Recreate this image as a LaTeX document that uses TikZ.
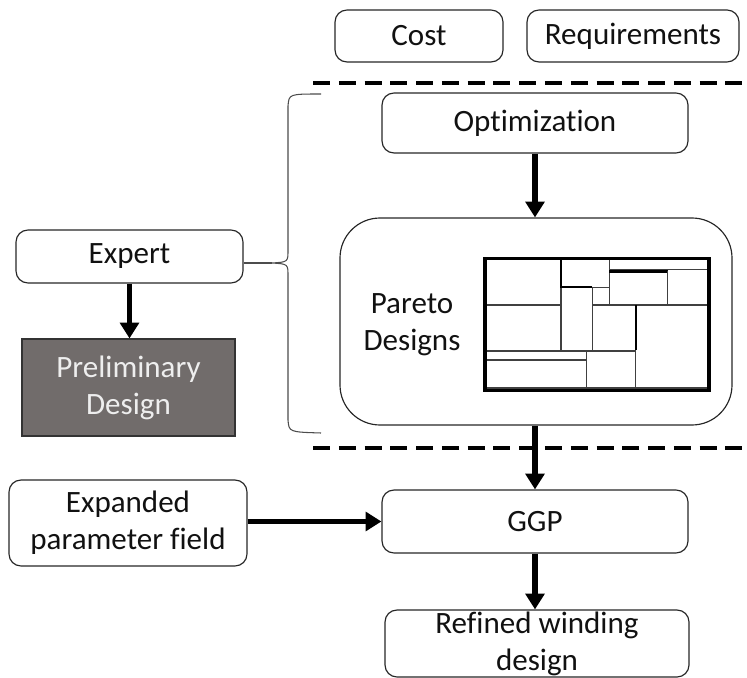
\documentclass[tikz,border=0pt]{standalone}
\usepackage{fontspec}
\setmainfont{Carlito}[Ligatures=NoCommon]
\usetikzlibrary{arrows.meta}
\definecolor{prelimfill}{HTML}{716C6B}
\definecolor{prelimtxt}{HTML}{EEEEEE}
\definecolor{txt}{HTML}{111111}
\begin{document}
\begin{tikzpicture}[x=0.03cm,y=-0.03cm,
  font=\fontsize{26.5}{31.6}\selectfont,
  sz/.style 2 args={minimum width=#1*0.03cm, minimum height=#2*0.03cm},
  box/.style={draw=black!85, line width=1pt, rounded corners=0.36cm, align=center, text=txt, inner sep=0pt},
  arr/.style={line width=4.4pt, -{Triangle[width=16pt,length=13.5pt]}},
  sepline/.style={line width=2.6pt, dash pattern=on 14.5pt off 7.5pt},
  thinl/.style={line width=0.9pt, draw=black!75},
  thickl/.style={line width=1.8pt, draw=black},
  bracel/.style={line width=0.9pt, draw=black!70}]
\useasboundingbox (0,0) rectangle (747,678);

% top boxes
\node[box, sz={168}{52}] (cost) at (419,36) {Cost};
\node[box, sz={212}{52}] (req) at (633,36) {Requirements};

% dashed separators
\coordinate (d1a) at (313,83); \coordinate (d1b) at (747,83);
\coordinate (d2a) at (313,448); \coordinate (d2b) at (747,448);
\draw[sepline] (d1a) -- (d1b);
\draw[sepline] (d2a) -- (d2b);

% optimization and pareto
\node[box, sz={306}{60}] (opt) at (535,123) {Optimization};
\node[box, sz={392}{207}, rounded corners=1.2cm] (pareto) at (536,321.5) {};
\node[align=center, text=txt, inner sep=0pt] (paretotxt) at (412,325) {Pareto\\Designs};

% pareto grid
\draw[thinl] (561,258) -- (561,350);
\draw[thickl] (561,258) -- (561,286.7) -- (592.3,286.7);
\draw[thinl] (485,305) -- (561,305);
\draw[thinl] (592.3,286.7) -- (592.3,350);
\draw[thinl] (592.3,287.7) -- (609.3,287.7);
\draw[thinl] (609.3,258) -- (609.3,305);
\draw[thinl] (609.3,269.3) -- (709,269.3);
\draw[thickl] (609.3,271.5) -- (667.7,271.5);
\draw[thinl] (667.7,271) -- (667.7,305);
\draw[thinl] (592.3,305) -- (709,305);
\draw[thinl] (635.7,350) -- (635.7,389);
\draw[thickl] (635.7,305) -- (635.7,350);
\draw[thinl] (485,351) -- (635.7,351);
\draw[thinl] (485,360) -- (586.3,360);
\draw[thinl] (586.3,351) -- (586.3,390);
\draw[thinl] (485,388) -- (709,388);
\draw[line width=2.6pt] (485,258.3) rectangle (709,390.7);

% left side
\node[box, sz={227}{53}] (expert) at (129.5,256.5) {Expert};
\node[draw=black!80, line width=1pt, fill=prelimfill, text=prelimtxt, align=center, inner sep=0pt, sz={213}{97}] (prelim) at (128.5,387.5) {Preliminary\\Design};

% brace
\coordinate (tip) at (272,263);
\draw[bracel] (321,94) .. controls (289,94) .. (288,106) -- (288,250)
  .. controls (288,262) .. (tip) .. controls (288,264) .. (288,276)
  -- (288,420) .. controls (289,432) .. (321,433);
\draw[bracel] (tip) -- (tip -| expert.east);

% bottom
\node[box, sz={238}{86}] (expanded) at (128,523) {Expanded\\parameter field};
\node[box, sz={306}{63}] (ggp) at (535,521.5) {GGP};
\node[box, sz={304}{67}] (refined) at (537,643.5) {Refined winding\\design};

% arrows
\draw[arr] (opt.south) -- (pareto.north -| opt.south);
\draw[arr] (expert.south) -- (prelim.north -| expert.south);
\draw[arr] (pareto.south -| ggp.north) -- (ggp.north);
\draw[arr] (expanded.east |- ggp.west) -- (ggp.west);
\draw[arr] (ggp.south) -- (refined.north -| ggp.south);
\end{tikzpicture}
\end{document}
